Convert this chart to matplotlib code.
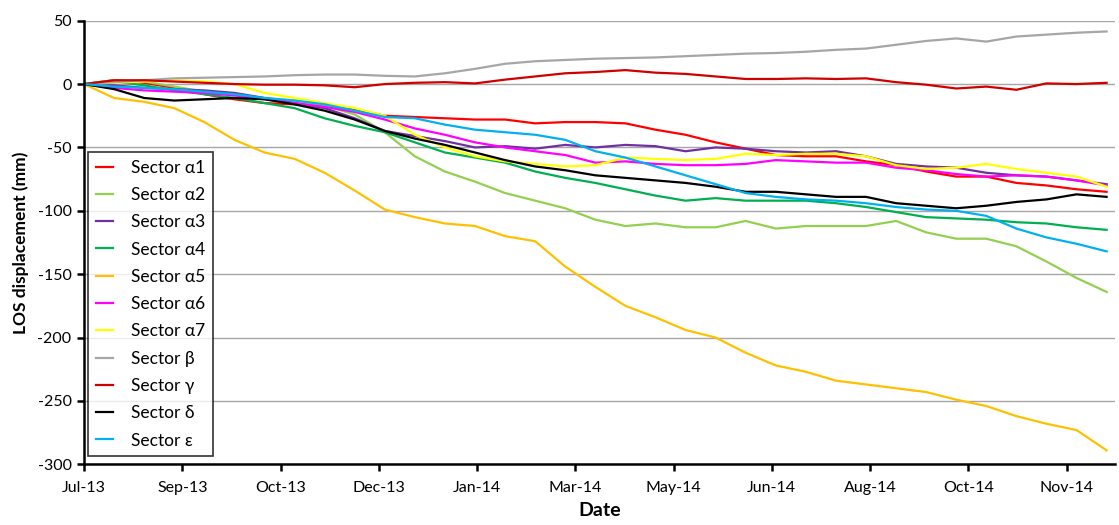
import pandas as pd
import matplotlib
matplotlib.use("Agg")
import matplotlib.pyplot as plt
import matplotlib.dates as mdates

plt.rcParams["font.family"] = ["Lato", "DejaVu Sans"]
plt.rcParams["axes.unicode_minus"] = False

# ── Data (LOS displacement, mm), one sample every 15 days ─────────────────────
START = "2013-07-18"
dates = pd.date_range(START, periods=35, freq="15D")

alpha1 = [0, 3, 1, -3, -8, -12, -15, -16, -18, -20, -25, -26, -27, -28, -28, -31, -30, -30,
          -31, -36, -40, -46, -51, -56, -57, -57, -61, -64, -69, -73, -73, -78, -80, -83, -85]
alpha2 = [0, 3, 2, -2, -6, -8, -11, -13, -17, -24, -38, -57, -69, -77, -86, -92, -98, -107,
          -112, -110, -113, -113, -108, -114, -112, -112, -112, -108, -117, -122, -122, -128,
          -140, -153, -164]
alpha3 = [0, -1, -3, -4, -5, -7, -11, -15, -19, -27, -37, -41, -45, -50, -49, -51, -48, -50,
          -48, -49, -53, -50, -51, -53, -54, -53, -57, -63, -65, -66, -70, -72, -73, -76, -79]
alpha4 = [0, 2, -1, -5, -8, -11, -15, -19, -27, -33, -38, -46, -54, -58, -62, -69, -74, -78,
          -83, -88, -92, -90, -92, -92, -92, -94, -97, -101, -105, -106, -107, -109, -110,
          -113, -115]
alpha5 = [0, -11, -14, -19, -30, -44, -54, -59, -70, -84, -99, -105, -110, -112, -120, -124,
          -144, -160, -175, -184, -194, -200, -212, -222, -227, -234, -237, -240, -243, -249,
          -254, -262, -268, -273, -289]
alpha6 = [0, -3, -5, -6, -7, -9, -12, -15, -18, -22, -28, -35, -40, -46, -50, -53, -56, -62,
          -61, -63, -64, -64, -63, -60, -61, -62, -62, -66, -68, -71, -73, -72, -73, -76, -80]
alpha7 = [0, 1, 2, 3, 2, 0, -7, -11, -15, -19, -25, -40, -50, -57, -61, -63, -65, -64, -58,
          -59, -60, -59, -55, -56, -55, -55, -57, -64, -67, -66, -63, -67, -70, -73, -81]
beta = [0, 1.5, 3, 4.5, 5, 5.5, 6, 7, 7.5, 7.5, 6.5, 6, 8.5, 12, 16, 18, 19, 20, 20.5, 21, 22,
        23, 24, 24.5, 25.5, 27, 28, 31, 34, 36, 33.5, 37.5, 39, 40.5, 41.5]
gamma = [0, 3, 3, 2, 1, 0, -0.5, -0.5, -1, -2.5, 0, 1, 1.5, 0.5, 3.5, 6, 8.5, 9.5, 11, 9, 8, 6,
         4, 4, 4.5, 4, 4.5, 1.5, -0.5, -3.5, -2, -4.5, 0.5, 0, 1]
delta = [0, -4, -11, -13, -12, -11, -12, -16, -21, -28, -37, -43, -48, -54, -60, -65, -68, -72,
         -74, -76, -78, -81, -85, -85, -87, -89, -89, -94, -96, -98, -96, -93, -91, -87, -89]
epsilon = [0, -2, -3, -4, -6, -8, -11, -13, -16, -21, -26, -27, -32, -36, -38, -40, -44, -53,
           -58, -65, -72, -79, -86, -89, -91, -92, -94, -97, -99, -100, -104, -114, -121,
           -126, -132]

series = [
    ("Sector α1", alpha1, "#FF0000"),
    ("Sector α2", alpha2, "#92D050"),
    ("Sector α3", alpha3, "#7030A0"),
    ("Sector α4", alpha4, "#00B050"),
    ("Sector α5", alpha5, "#FFC000"),
    ("Sector α6", alpha6, "#FF00FF"),
    ("Sector α7", alpha7, "#FFFF00"),
    ("Sector β", beta, "#A6A6A6"),
    ("Sector γ", gamma, "#D00000"),
    ("Sector δ", delta, "#000000"),
    ("Sector ε", epsilon, "#00B0F0"),
]

# ── Figure ────────────────────────────────────────────────────────────────────
fig = plt.figure(figsize=(11.19, 5.25), dpi=100)
ax = fig.add_axes([0.0751, 0.1156, 0.921, 0.845])

for label, vals, color in series:
    ax.plot(dates, vals, color=color, linewidth=1.6, label=label)

ax.set_ylim(-300, 50)
ax.set_yticks(range(-300, 51, 50))
ax.yaxis.grid(True, color="#A6A6A6", linewidth=1.0)
ax.set_axisbelow(True)

tick_dates = pd.date_range(START, periods=11, freq="49D")
ax.set_xticks(tick_dates)
ax.xaxis.set_major_formatter(mdates.DateFormatter("%b-%y"))
ax.set_xlim(pd.Timestamp(START), pd.Timestamp(START) + pd.Timedelta(days=514))

for side in ("top", "right"):
    ax.spines[side].set_visible(False)
for side in ("left", "bottom"):
    ax.spines[side].set_linewidth(1.8)
ax.tick_params(axis="both", direction="out", length=5, width=1.8, labelsize=11.5,
               colors="black", pad=4)
ax.tick_params(axis="x", pad=7)

ax.set_xlabel("Date", fontsize=14, fontweight="bold", labelpad=5)
ax.set_ylabel("LOS displacement (mm)", fontsize=12.5, fontweight="bold", labelpad=6)

leg = ax.legend(loc="lower left", bbox_to_anchor=(0.004, 0.018), borderaxespad=0,
                fontsize=12.5, frameon=True, fancybox=False, edgecolor="black",
                handlelength=1.0, handletextpad=1.0, labelspacing=0.65, borderpad=0.45)
leg.get_frame().set_linewidth(1.2)

fig.savefig("out.png", dpi=100)
